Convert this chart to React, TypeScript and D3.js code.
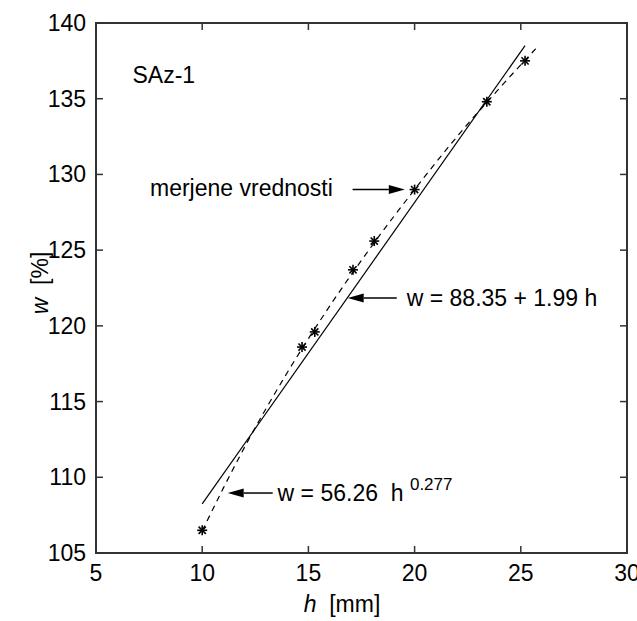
import React from "react";
import * as d3 from "d3";

// measured points (h [mm], w [%])
const measuredH = [10, 14.7, 15.3, 17.1, 18.1, 20, 23.4, 25.2];
const measuredW = [106.5, 118.6, 119.6, 123.7, 125.6, 129, 134.8, 137.5];

// linear fit  w = 88.35 + 1.99 h  (end points)
const linearH = [10, 25.2];
const linearW = [108.25, 138.5];

// power fit  w = 56.26 h^0.277
const powerH = [10, 11, 12, 14, 16, 18, 20, 22, 24, 25.7];
const powerW = [106.45, 109.3, 112.0, 116.9, 121.3, 125.3, 129.0, 132.5, 135.7, 138.3];

const xTicks = [5, 10, 15, 20, 25, 30];
const yTicks = [105, 110, 115, 120, 125, 130, 135, 140];

const W = 637, H = 621;
const font = "'Liberation Sans', Arial, sans-serif";

const Arrow = ({ x1, x2, y }: { x1: number; x2: number; y: number }) => {
  // line from x1 (tail) to x2 (tip)
  const dir = Math.sign(x2 - x1);
  const headLen = 16;
  const hw = 4.5;
  const base = x2 - dir * headLen;
  return (
    <g>
      <line x1={x1} y1={y} x2={base} y2={y} stroke="#000" strokeWidth={1.5} />
      <path d={`M${x2},${y} L${base},${y - hw} L${base},${y + hw} Z`} fill="#000" />
    </g>
  );
};

const Asterisk = ({ x, y }: { x: number; y: number }) => {
  const r = 5;
  const d = r * 0.72;
  return (
    <g stroke="#000" strokeWidth={1.6}>
      <line x1={x - r} y1={y} x2={x + r} y2={y} />
      <line x1={x} y1={y - r} x2={x} y2={y + r} />
      <line x1={x - d} y1={y - d} x2={x + d} y2={y + d} />
      <line x1={x - d} y1={y + d} x2={x + d} y2={y - d} />
    </g>
  );
};

export default function App() {
  const x = d3.scaleLinear().domain([5, 30]).range([96, 627]);
  const y = d3.scaleLinear().domain([105, 140]).range([553, 23]);
  const [x0, x1] = x.range();
  const [y0, y1] = y.range();
  const tick = 7;

  const line = d3.line<[number, number]>().x(d => x(d[0])).y(d => y(d[1]));
  const linearPts = linearH.map((h, i) => [h, linearW[i]] as [number, number]);
  const powerPts = powerH.map((h, i) => [h, powerW[i]] as [number, number]);
  const curve = d3.line<[number, number]>().x(d => x(d[0])).y(d => y(d[1])).curve(d3.curveMonotoneX);

  return (
    <svg width={W} height={H} style={{ position: "absolute", left: 0, top: 0, background: "#fff" }}
      fontFamily={font} fontSize={23} fill="#000">
      <rect x={0} y={0} width={W} height={H} fill="#fff" />

      {/* fits */}
      <path d={line(linearPts) || ""} fill="none" stroke="#000" strokeWidth={1.2} />
      <path d={curve(powerPts) || ""} fill="none" stroke="#000" strokeWidth={1.2} strokeDasharray="6,5" />

      {/* measured values */}
      {measuredH.map((h, i) => <Asterisk key={i} x={x(h)} y={y(measuredW[i])} />)}

      {/* frame */}
      <rect x={x0} y={y1} width={x1 - x0} height={y0 - y1} fill="none" stroke="#333" strokeWidth={2} />
      {xTicks.map(t => (
        <g key={"x" + t} stroke="#333" strokeWidth={1.5}>
          <line x1={x(t)} x2={x(t)} y1={y0} y2={y0 - tick} />
          <line x1={x(t)} x2={x(t)} y1={y1} y2={y1 + tick} />
        </g>
      ))}
      {yTicks.map(t => (
        <g key={"y" + t} stroke="#333" strokeWidth={1.5}>
          <line x1={x0} x2={x0 + tick} y1={y(t)} y2={y(t)} />
          <line x1={x1} x2={x1 - tick} y1={y(t)} y2={y(t)} />
        </g>
      ))}
      {xTicks.map(t => (
        <text key={"xl" + t} x={x(t)} y={y0 + 28} textAnchor="middle">{t}</text>
      ))}
      {yTicks.map(t => (
        <text key={"yl" + t} x={x0 - 10} y={y(t) + 8} textAnchor="end">{t}</text>
      ))}

      {/* axis titles */}
      <text x={342} y={612} textAnchor="middle" style={{ whiteSpace: "pre" }}>
        <tspan fontStyle="italic">h</tspan>{"  [mm]"}
      </text>
      <text transform={`translate(48,283) rotate(-90)`} textAnchor="middle" style={{ whiteSpace: "pre" }}>
        <tspan fontStyle="italic">w</tspan>{"  [%]"}
      </text>

      {/* annotations */}
      <text x={x(6.72)} y={y(136.05)}>SAz-1</text>

      <text x={x(16.15)} y={y(129) + 6} textAnchor="end">merjene vrednosti</text>
      <Arrow x1={x(17.08)} x2={x(19.54)} y={y(129)} />

      <Arrow x1={x(19.16)} x2={x(16.85)} y={y(121.84)} />
      <text x={x(19.63)} y={y(121.84) + 8} style={{ whiteSpace: "pre" }}>w = 88.35 + 1.99 h</text>

      <Arrow x1={x(13.32)} x2={x(11.2)} y={y(108.96)} />
      <text x={x(13.55)} y={y(108.96) + 8} style={{ whiteSpace: "pre" }}>
        {"w = 56.26  h "}
        <tspan fontSize={17} dy={-11}>0.277</tspan>
      </text>
    </svg>
  );
}
